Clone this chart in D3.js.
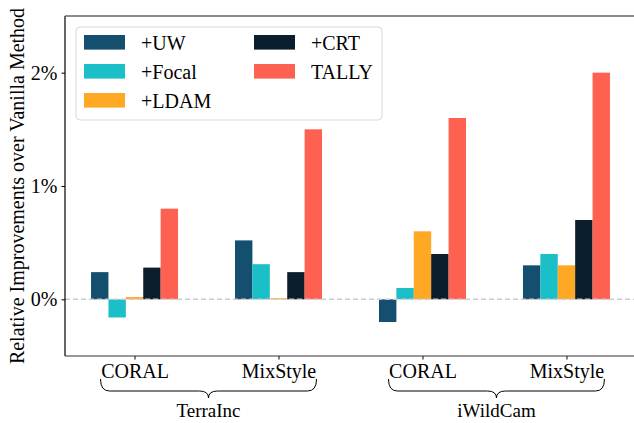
<!DOCTYPE html>
<html>
<head>
<meta charset="utf-8">
<script src="https://cdn.jsdelivr.net/npm/d3@7"></script>
<style>
  body { margin: 0; background: #fff; }
  text { font-family: "Liberation Serif", "DejaVu Serif", serif; }
</style>
</head>
<body>
<svg id="chart" width="634" height="423"></svg>
<script>
// data
var datasets = ["TerraInc", "iWildCam"];
var methods = ["CORAL", "MixStyle"];
var seriesNames = ["+UW", "+Focal", "+LDAM", "+CRT", "TALLY"];
var seriesColors = ["#154f6f", "#1bbfc8", "#ffa823", "#0a1e2d", "#ff6150"];

var uwVals    = [0.24, 0.52, -0.20, 0.30];
var focalVals = [-0.16, 0.31, 0.10, 0.40];
var ldamVals  = [0.02, 0.01, 0.60, 0.30];
var crtVals   = [0.28, 0.24, 0.40, 0.70];
var tallyVals = [0.80, 1.50, 1.60, 2.00];

var yTicks = [0, 1, 2];
var yDomain = [-0.5, 2.5];

var allVals = [uwVals, focalVals, ldamVals, crtVals, tallyVals];

// one slot per dataset/method pair
var slots = [];
datasets.forEach(function(d){
	methods.forEach(function(m){ slots.push({dataset: d, method: m, key: d + "-" + m}); });
});

var svg = d3.select("#chart");

// plot box (window.top is reserved, hence the names)
var plotLeft = 65, plotRight = 636, plotTop = 16, plotBottom = 356;

var x = d3.scalePoint()
	.domain(slots.map(function(s){ return s.key; }))
	.range([plotLeft, plotRight])
	.padding(0.483);

var xInner = d3.scaleBand()
	.domain(seriesNames)
	.range([-43.5, 43.5]);

var y = d3.scaleLinear()
	.domain(yDomain)
	.range([plotBottom, plotTop]);

//-----------------------------------------------------------------------------------
// bars
//-----------------------------------------------------------------------------------
seriesNames.forEach(function(name, si){
	svg.append("g")
		.selectAll("rect")
		.data(allVals[si])
		.enter().append("rect")
		.attr("x", function(v, i){ return x(slots[i].key) + xInner(name); })
		.attr("width", xInner.bandwidth())
		.attr("y", function(v){ return y(Math.max(0, v)); })
		.attr("height", function(v){ return Math.abs(y(v) - y(0)); })
		.style("fill", seriesColors[si]);
});

// dashed zero line
svg.append("line")
	.attr("x1", plotLeft).attr("x2", plotRight)
	.attr("y1", y(0)).attr("y2", y(0))
	.style("stroke", "#cccccc")
	.style("stroke-width", 1.5)
	.style("stroke-dasharray", "5,3");

//-----------------------------------------------------------------------------------
// axes
//-----------------------------------------------------------------------------------
var yAxis = svg.append("g")
	.attr("transform", "translate(" + plotLeft + ",0)")
	.call(d3.axisLeft(y).tickValues(yTicks).tickSize(3.5).tickPadding(4)
		.tickFormat(function(d){ return d + "%"; }));
yAxis.select(".domain").remove();
yAxis.selectAll("text").style("font-size", "20px").style("font-family", "Liberation Serif").attr("fill", "#000");

var xAxis = svg.append("g")
	.attr("transform", "translate(0," + plotBottom + ")")
	.call(d3.axisBottom(x).tickSize(3.5).tickPadding(4)
		.tickFormat(function(k){ return k.split("-")[1]; }));
xAxis.select(".domain").remove();
xAxis.selectAll("text").style("font-size", "20px").style("font-family", "Liberation Serif").attr("fill", "#000");

// frame (no right spine visible in the picture)
svg.append("line").attr("x1", plotLeft).attr("x2", plotLeft).attr("y1", plotTop).attr("y2", plotBottom)
	.style("stroke", "#000").style("stroke-width", 1.2);
svg.append("line").attr("x1", plotLeft).attr("x2", 634).attr("y1", plotTop).attr("y2", plotTop)
	.style("stroke", "#666").style("stroke-width", 1.6);
svg.append("line").attr("x1", plotLeft).attr("x2", 634).attr("y1", plotBottom).attr("y2", plotBottom)
	.style("stroke", "#333").style("stroke-width", 1.2);

svg.append("text")
	.attr("transform", "translate(24," + ((plotTop + plotBottom) / 2) + ") rotate(-90)")
	.attr("text-anchor", "middle")
	.style("font-size", "20px")
	.text("Relative Improvements over Vanilla Method");

//-----------------------------------------------------------------------------------
// braces under each dataset
//-----------------------------------------------------------------------------------
var braceTop = 379, braceMid = 391, braceTip = 398, r = 9;
datasets.forEach(function(d){
	var keys = slots.filter(function(s){ return s.dataset === d; }).map(function(s){ return s.key; });
	var cx = (x(keys[0]) + x(keys[keys.length - 1])) / 2 + 2;
	var x0 = cx - 108, x1 = cx + 108;
	var p = d3.path();
	p.moveTo(x0, braceTop);
	p.quadraticCurveTo(x0, braceMid, x0 + r, braceMid);
	p.lineTo(cx - r, braceMid);
	p.quadraticCurveTo(cx, braceMid, cx, braceTip);
	p.quadraticCurveTo(cx, braceMid, cx + r, braceMid);
	p.lineTo(x1 - r, braceMid);
	p.quadraticCurveTo(x1, braceMid, x1, braceTop);
	svg.append("path").attr("d", p.toString())
		.style("fill", "none").style("stroke", "#000").style("stroke-width", 1);
	svg.append("text")
		.attr("x", cx).attr("y", 417)
		.attr("text-anchor", "middle")
		.style("font-size", "19px")
		.text(d);
});

//-----------------------------------------------------------------------------------
// legend, two columns filled top-down
//-----------------------------------------------------------------------------------
var legend = svg.append("g");
legend.append("rect")
	.attr("x", 76).attr("y", 27).attr("width", 306).attr("height", 93)
	.attr("rx", 4)
	.style("fill", "#fff").style("fill-opacity", 0.85)
	.style("stroke", "#d9d9d9").style("stroke-width", 1);

seriesNames.forEach(function(name, i){
	var col = Math.floor(i / 3), row = i % 3;
	var px = 84 + col * 170, cy = 42.3 + row * 29;
	legend.append("rect")
		.attr("x", px).attr("y", cy - 7.3)
		.attr("width", 41).attr("height", 14.6)
		.style("fill", seriesColors[i]);
	legend.append("text")
		.attr("x", px + 57).attr("y", cy + 7.5)
		.style("font-size", "20px")
		.text(name);
});
</script>
</body>
</html>
